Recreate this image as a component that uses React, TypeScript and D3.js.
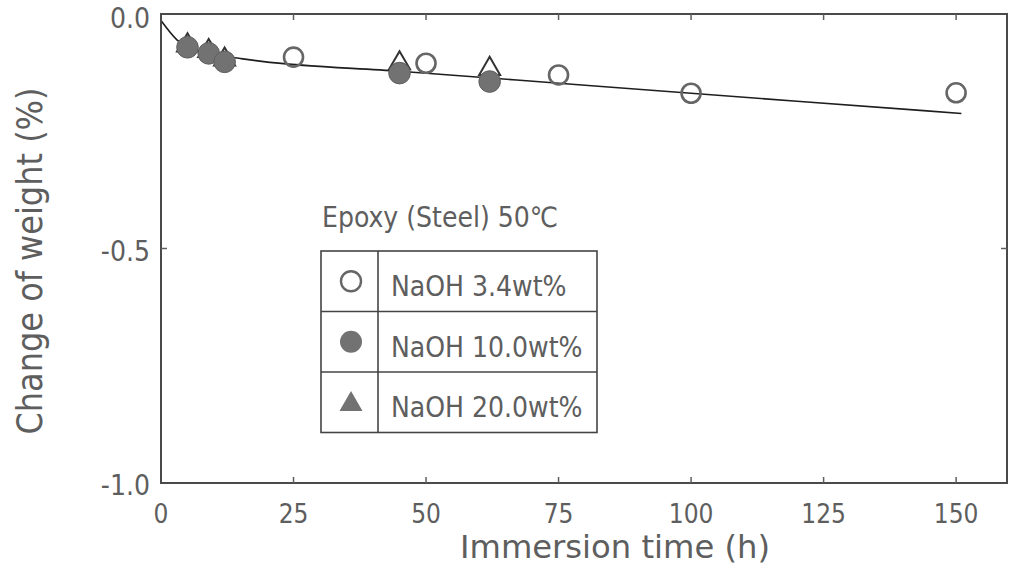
import React from 'react';
import * as d3 from 'd3';

// NaOH 3.4wt% (open circles)
const lowTime = [25, 50, 75, 100, 150];
const lowChange = [-0.092, -0.105, -0.13, -0.169, -0.168];
// NaOH 10.0wt% (filled circles)
const midTime = [5, 9, 12, 45, 62];
const midChange = [-0.071, -0.084, -0.102, -0.126, -0.144];
// NaOH 20.0wt% (triangles)
const highTime = [5, 9, 12, 45, 62];
const highChange = [-0.067, -0.079, -0.097, -0.105, -0.117];
// fitted curve
const fitTime = [0, 3, 6.5, 10, 15, 19, 45, 80, 120, 151];
const fitChange = [-0.014, -0.055, -0.077, -0.087, -0.095, -0.101, -0.122, -0.152, -0.186, -0.212];

const xTicks = [0, 25, 50, 75, 100, 125, 150];
const yTicks = [0, -0.5, -1.0];
const yTickLabels = ['0.0', '-0.5', '-1.0'];
const legendTitle = 'Epoxy (Steel) 50℃';
const legendLabels = ['NaOH 3.4wt%', 'NaOH 10.0wt%', 'NaOH 20.0wt%'];

const W = 1009, H = 573;
const left = 161, right = 1007, top = 14, bottom = 483;
const font = "'DejaVu Sans Condensed', 'DejaVu Sans', sans-serif";
const ink = '#5e5e5e';

export default function App() {
  const x = d3.scaleLinear().domain([0, 159.6]).range([left, right]);
  const y = d3.scaleLinear().domain([-1, 0]).range([bottom, top]);

  const fitLine = d3.line<number>()
    .x(i => x(fitTime[i]))
    .y(i => y(fitChange[i]))
    .curve(d3.curveMonotoneX);

  const tri = d3.symbol().type(d3.symbolTriangle).size(190)();
  const triLegend = d3.symbol().type(d3.symbolTriangle).size(230)();

  // legend box
  const lx = 321, lw = 276, ly = 251, rowH = 60.5, divX = 378;

  return (
    <svg width={W} height={H} style={{ position: 'absolute', left: 0, top: 0, background: '#fff' }}
      fontFamily={font}>
      <rect x={0} y={0} width={W} height={H} fill="#fff" />

      {/* fitted line */}
      <path d={fitLine(fitTime.map((_, i) => i)) || ''} fill="none" stroke="#1e1e1e" strokeWidth={1.6} />

      {/* 20wt% triangles */}
      {highTime.map((t, i) => (
        <path key={'h' + i} d={tri || ''} transform={`translate(${x(t)},${y(highChange[i])})`}
          fill="#fff" stroke="#333" strokeWidth={2} />
      ))}
      {/* 10wt% filled circles */}
      {midTime.map((t, i) => (
        <circle key={'m' + i} cx={x(t)} cy={y(midChange[i])} r={10.8}
          fill="#727272" stroke="#5e5e5e" strokeWidth={1} />
      ))}
      {/* 3.4wt% open circles */}
      {lowTime.map((t, i) => (
        <circle key={'l' + i} cx={x(t)} cy={y(lowChange[i])} r={9.5}
          fill="none" stroke="#666" strokeWidth={2.6} />
      ))}

      {/* frame */}
      <rect x={left} y={top} width={right - left} height={bottom - top} fill="none" stroke="#4a4a4a" strokeWidth={2} />

      {/* ticks, inward */}
      {xTicks.slice(1).map(t => (
        <g key={'xt' + t}>
          <line x1={x(t)} x2={x(t)} y1={bottom} y2={bottom - 6} stroke={ink} strokeWidth={1.5} />
          <line x1={x(t)} x2={x(t)} y1={top} y2={top + 6} stroke={ink} strokeWidth={1.5} />
        </g>
      ))}
      <line x1={left} x2={left + 6} y1={y(-0.5)} y2={y(-0.5)} stroke={ink} strokeWidth={1.5} />
      <line x1={right} x2={right - 6} y1={y(-0.5)} y2={y(-0.5)} stroke={ink} strokeWidth={1.5} />

      {/* tick labels */}
      {xTicks.map(t => (
        <text key={'xl' + t} x={x(t)} y={523} textAnchor="middle" fontSize={26} fill={ink}>{t}</text>
      ))}
      {yTicks.map((v, i) => (
        <text key={'yl' + i} x={150} y={y(v) + (i === 0 ? 14 : 12)} textAnchor="end" fontSize={28} fill={ink}>
          {yTickLabels[i]}
        </text>
      ))}

      {/* axis titles */}
      <text x={615} y={558} textAnchor="middle" fontSize={32} fill={ink}
        textLength={310} lengthAdjust="spacingAndGlyphs">Immersion time (h)</text>
      <text transform="translate(42,261) rotate(-90)" textAnchor="middle" fontSize={36} fill={ink}
        textLength={347} lengthAdjust="spacingAndGlyphs">Change of weight (%)</text>

      {/* legend */}
      <text x={lx + 1} y={227} fontSize={28} fill={ink}>{legendTitle}</text>
      <rect x={lx} y={ly} width={lw} height={rowH * 3} fill="#fff" stroke="#444" strokeWidth={1.6} />
      <line x1={divX} x2={divX} y1={ly} y2={ly + rowH * 3} stroke="#444" strokeWidth={1.6} />
      {[1, 2].map(k => (
        <line key={'rl' + k} x1={lx} x2={lx + lw} y1={ly + rowH * k} y2={ly + rowH * k} stroke="#444" strokeWidth={1.6} />
      ))}
      <circle cx={351} cy={ly + rowH * 0.5} r={10} fill="none" stroke="#666" strokeWidth={2.4} />
      <circle cx={351} cy={ly + rowH * 1.5} r={11} fill="#727272" />
      <path d={triLegend || ''} transform={`translate(351,${ly + rowH * 2.5 + 2})`} fill="#727272" />
      {legendLabels.map((s, i) => (
        <text key={'lg' + i} x={391} y={ly + rowH * i + 45} fontSize={28} fill={ink}>{s}</text>
      ))}
    </svg>
  );
}
